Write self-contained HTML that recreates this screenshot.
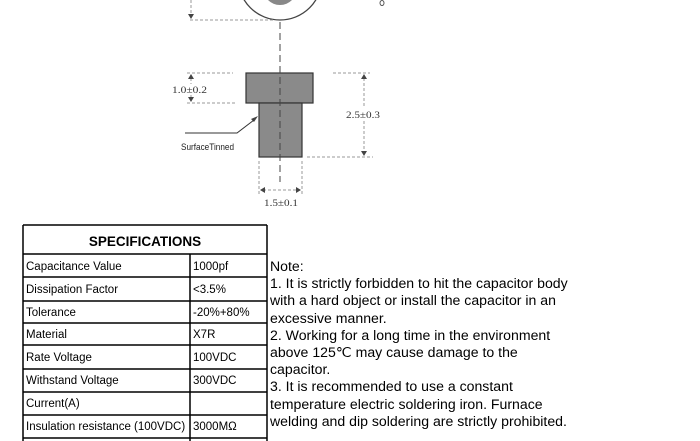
<!DOCTYPE html>
<html><head><meta charset="utf-8"><style>
body{margin:0;width:700px;height:441px;background:#fff;overflow:hidden;position:relative;font-family:"Liberation Sans",sans-serif}
svg{position:absolute;left:0;top:0}
.note{position:absolute;left:270px;top:258px;font-size:14.1px;line-height:17.2px;color:#000;white-space:nowrap}
</style></head><body>
<svg width="700" height="441" viewBox="0 0 700 441">
<g stroke="#555" fill="none" stroke-width="1">
<circle cx="280" cy="-22" r="42" stroke="#444" stroke-width="1.3"/>
</g>
<circle cx="280" cy="-12" r="17" fill="#888"/>
<g stroke="#999" stroke-dasharray="3,2" stroke-width="1">
<line x1="190" y1="20" x2="275" y2="20"/>
<line x1="191" y1="0" x2="191" y2="15"/>
<line x1="187" y1="73" x2="233" y2="73"/>
<line x1="187" y1="103" x2="237" y2="103"/>
<line x1="333" y1="73" x2="370" y2="73"/>
<line x1="307" y1="157" x2="373" y2="157"/>
<line x1="364" y1="78" x2="364" y2="108"/>
<line x1="364" y1="121" x2="364" y2="152"/>
<line x1="191" y1="78" x2="191" y2="84"/>
<line x1="191" y1="95" x2="191" y2="99"/>
<line x1="259" y1="161" x2="259" y2="195"/>
<line x1="302" y1="161" x2="302" y2="195"/>
<line x1="263" y1="190" x2="298" y2="190"/>
</g>
<rect x="246" y="73" width="67" height="30" fill="#8a8a8a" stroke="#333" stroke-width="1.2"/>
<rect x="259" y="103" width="43" height="54" fill="#8a8a8a" stroke="#333" stroke-width="1.2"/>
<line x1="280" y1="22" x2="280" y2="182" stroke="#444" stroke-dasharray="7,4" stroke-width="1"/>
<g fill="#444">
<polygon points="188,14 194,14 191,19"/>
<polygon points="188,79 194,79 191,74"/>
<polygon points="188,97 194,97 191,102"/>
<polygon points="361,79 367,79 364,74"/>
<polygon points="361,151 367,151 364,156"/>
<polygon points="260,190 265,187 265,193"/>
<polygon points="301,190 296,187 296,193"/>
<polygon points="258,116 251,119 254,122"/>
</g>
<polyline points="185,133 237,133 254,120" stroke="#333" fill="none" stroke-width="1"/>
<ellipse cx="382" cy="3" rx="2" ry="2.5" fill="none" stroke="#555"/>
<g font-family="Liberation Serif,serif" font-size="9.5" fill="#333">
<text x="172" y="93" textLength="35" lengthAdjust="spacingAndGlyphs">1.0±0.2</text>
<text x="346" y="118" textLength="34" lengthAdjust="spacingAndGlyphs">2.5±0.3</text>
<text x="264" y="206" textLength="34" lengthAdjust="spacingAndGlyphs">1.5±0.1</text>
</g>
<text x="181" y="150" font-family="Liberation Sans,sans-serif" font-size="9.5" fill="#222" textLength="53" lengthAdjust="spacingAndGlyphs">SurfaceTinned</text>
<g stroke="#000" stroke-width="1.5" fill="none">
<line x1="23" y1="225" x2="267" y2="225"/>
<line x1="23" y1="225" x2="23" y2="441"/>
<line x1="267" y1="225" x2="267" y2="441"/>
<line x1="190" y1="254" x2="190" y2="441"/>
<line x1="23" y1="254" x2="267" y2="254"/>
<line x1="23" y1="277" x2="267" y2="277"/>
<line x1="23" y1="301" x2="267" y2="301"/>
<line x1="23" y1="323" x2="267" y2="323"/>
<line x1="23" y1="345" x2="267" y2="345"/>
<line x1="23" y1="369" x2="267" y2="369"/>
<line x1="23" y1="392" x2="267" y2="392"/>
<line x1="23" y1="415" x2="267" y2="415"/>
<line x1="23" y1="438" x2="267" y2="438"/>
</g>
<text x="145" y="246" text-anchor="middle" font-weight="bold" font-size="13.5" fill="#000">SPECIFICATIONS</text>
<g font-size="11.5" fill="#000">
<text x="26" y="270">Capacitance Value</text><text x="193" y="270">1000pf</text>
<text x="26" y="293">Dissipation Factor</text><text x="193" y="293">&lt;3.5%</text>
<text x="26" y="316">Tolerance</text><text x="193" y="316">-20%+80%</text>
<text x="26" y="338">Material</text><text x="193" y="338">X7R</text>
<text x="26" y="361">Rate Voltage</text><text x="193" y="361">100VDC</text>
<text x="26" y="384">Withstand Voltage</text><text x="193" y="384">300VDC</text>
<text x="26" y="407">Current(A)</text>
<text x="26" y="430">Insulation resistance (100VDC)</text><text x="193" y="430">3000MΩ</text>
</g>
</svg>
<div class="note">Note:<br>1. It is strictly forbidden to hit the capacitor body<br>with a hard object or install the capacitor in an<br>excessive manner.<br>2. Working for a long time in the environment<br>above 125℃ may cause damage to the<br>capacitor.<br>3. It is recommended to use a constant<br>temperature electric soldering iron. Furnace<br>welding and dip soldering are strictly prohibited.</div>
</body></html>
